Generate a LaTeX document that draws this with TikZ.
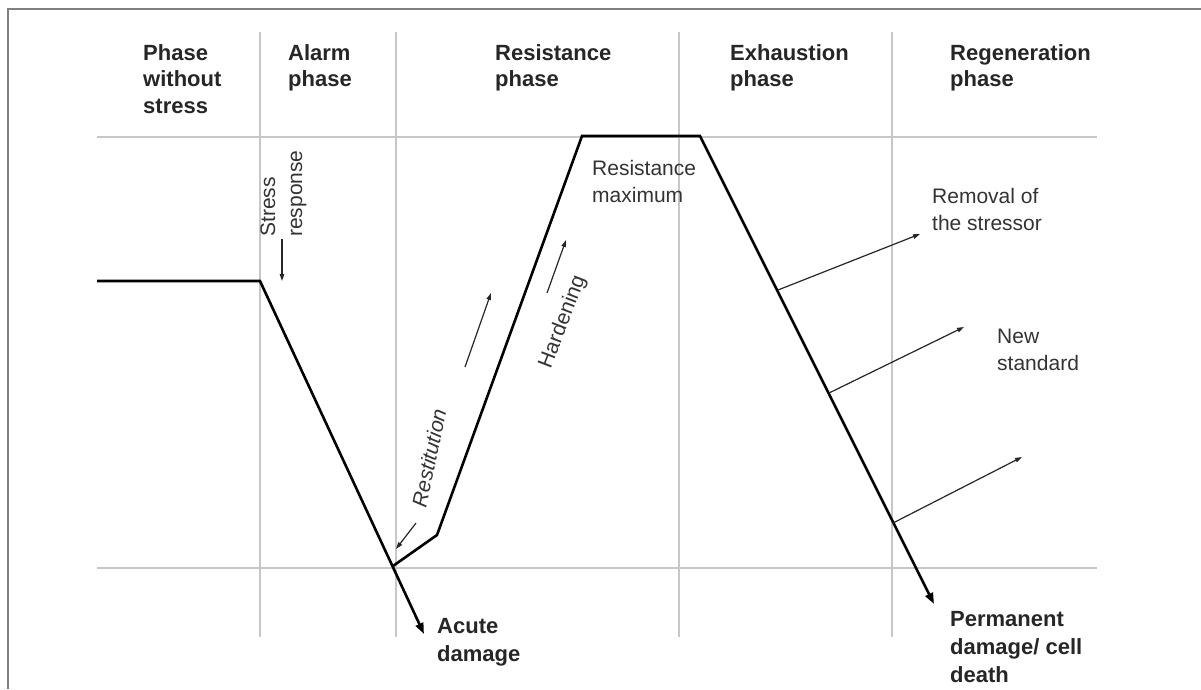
\documentclass[tikz,border=0pt]{standalone}
\usepackage{fontspec}
\setmainfont{Liberation Sans}
\usetikzlibrary{arrows.meta}
\begin{document}
\begin{tikzpicture}[x=1pt,y=-1pt,
  grid/.style={draw=black!22,line width=1.5pt},
  frame/.style={draw=black!50,line width=2pt},
  curve/.style={draw=black,line width=2.6pt,line join=miter},
  bigtip/.style={-{Triangle[length=11pt,width=8pt]}},
  small/.style={draw=black!85,line width=1.2pt,-{Triangle[length=7pt,width=4.5pt]}},
  head/.style={font=\fontsize{22}{26.5}\selectfont\bfseries,align=left,anchor=base west,inner sep=0pt,text=black!85},
  lab/.style={font=\fontsize{21}{27.5}\selectfont,align=left,anchor=base west,inner sep=0pt,text=black!80},
  boldlab/.style={font=\fontsize{22}{28}\selectfont\bfseries,align=left,anchor=base west,inner sep=0pt,text=black!85}]
\useasboundingbox (0,0) rectangle (1201,689);
% frame
\draw[frame] (8,689) -- (8,9) -- (1201,9);
% grid lines
\draw[grid] (97,137) -- (1097,137);
\draw[grid] (97,568) -- (1097,568);
\draw[grid] (260,32) -- (260,637);
\draw[grid] (396,32) -- (396,637);
\draw[grid] (679,32) -- (679,637);
\draw[grid] (892,32) -- (892,637);
% headers (base anchor = baseline of last line)
\node[head] (h1) at (143,113) {Phase\\without\\stress};
\node[head] (h2) at (288,86.5) {Alarm\\phase};
\node[head] (h3) at (495,86.5) {Resistance\\phase};
\node[head] (h4) at (730,86.5) {Exhaustion\\phase};
\node[head] (h5) at (950,86.5) {Regeneration\\phase};
% curve points
\coordinate (A) at (97,281);
\coordinate (B) at (260,281);
\coordinate (V) at (393,566);
\coordinate (AT) at (424,634);
\coordinate (K) at (437,535);
\coordinate (P1) at (582,136);
\coordinate (P2) at (700,136);
\coordinate (PT) at (934,604);
\draw[curve,bigtip] (A) -- (B) -- (AT);
\draw[curve,bigtip] (V) -- (K) -- (P1) -- (P2) -- (PT);
% labels
\node[boldlab] (acute) at (437,661) {Acute\\damage};
\node[boldlab] (perm) at (950,682) {Permanent\\damage/ cell\\death};
\node[lab] (resmax) at (592,202.5) {Resistance\\maximum};
\node[lab] (remov) at (932,230.5) {Removal of\\the stressor};
\node[lab] (newst) at (997,370.5) {New\\standard};
\node[font=\fontsize{21}{27}\selectfont,align=left,anchor=west,inner sep=0pt,rotate=90,text=black!80] (stressr) at (283.5,237) {Stress\\response};
\node[font=\fontsize{21}{27}\selectfont,inner sep=0pt,rotate=69,text=black!80] (hard) at (563,322) {Hardening};
\node[font=\fontsize{21}{27}\selectfont\itshape,inner sep=0pt,rotate=78,text=black!80] (restit) at (429,458) {Restitution};
% small arrows
\coordinate (s1a) at (282,239); \coordinate (s1b) at (282,281);
\draw[small] (s1a) -- (s1b);
\coordinate (r1a) at (416,523); \coordinate (r1b) at (396,549);
\draw[small] (r1a) -- (r1b);
\coordinate (u1a) at (465,367); \coordinate (u1b) at (491,293);
\draw[small] (u1a) -- (u1b);
\coordinate (u2a) at (547,293); \coordinate (u2b) at (566,240);
\draw[small] (u2a) -- (u2b);
\coordinate (e1a) at (778,290); \coordinate (e1b) at (920,234);
\draw[small] (e1a) -- (e1b);
\coordinate (e2a) at (829,393); \coordinate (e2b) at (964,327);
\draw[small] (e2a) -- (e2b);
\coordinate (e3a) at (893,523); \coordinate (e3b) at (1022,457);
\draw[small] (e3a) -- (e3b);
\end{tikzpicture}
\end{document}
